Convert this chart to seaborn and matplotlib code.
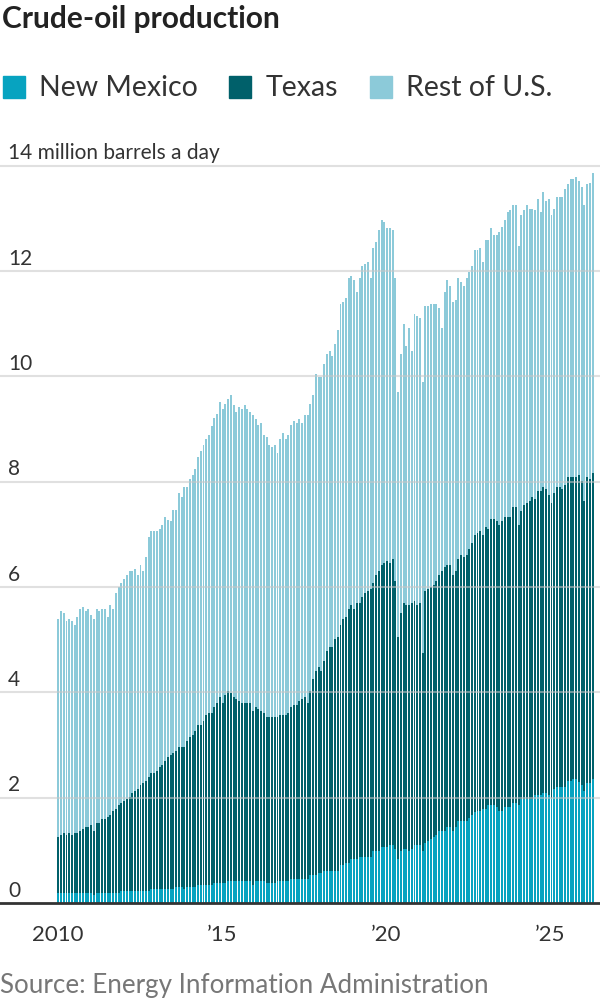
import numpy as np
import pandas as pd
import matplotlib
matplotlib.use("Agg")
import matplotlib.pyplot as plt
from matplotlib.patches import Rectangle
from matplotlib.transforms import blended_transform_factory
import seaborn as sns

# million barrels a day, monthly from Jan 2010 (one row per year)
new_mexico = [
    0.19, 0.19, 0.19, 0.19, 0.19, 0.19, 0.19, 0.19, 0.19, 0.19, 0.19, 0.19,
    0.19, 0.15, 0.19, 0.19, 0.19, 0.19, 0.19, 0.19, 0.19, 0.19, 0.19, 0.23,
    0.23, 0.23, 0.23, 0.23, 0.23, 0.23, 0.23, 0.23, 0.23, 0.23, 0.27, 0.27,
    0.27, 0.27, 0.27, 0.27, 0.27, 0.27, 0.27, 0.30, 0.30, 0.30, 0.27, 0.30,
    0.30, 0.30, 0.30, 0.34, 0.34, 0.34, 0.34, 0.34, 0.34, 0.38, 0.38, 0.38,
    0.38, 0.38, 0.42, 0.42, 0.42, 0.42, 0.42, 0.42, 0.42, 0.42, 0.42, 0.34,
    0.42, 0.42, 0.42, 0.42, 0.38, 0.38, 0.38, 0.38, 0.42, 0.42, 0.42, 0.42,
    0.42, 0.46, 0.46, 0.46, 0.46, 0.46, 0.46, 0.46, 0.53, 0.53, 0.53, 0.57,
    0.57, 0.61, 0.61, 0.61, 0.61, 0.61, 0.61, 0.72, 0.72, 0.76, 0.76, 0.84,
    0.84, 0.84, 0.87, 0.87, 0.87, 0.87, 0.87, 0.99, 0.99, 0.99, 1.06, 1.06,
    1.06, 1.10, 1.10, 1.03, 0.84, 0.99, 1.03, 1.03, 0.99, 1.03, 1.10, 1.10,
    1.10, 0.99, 1.14, 1.18, 1.22, 1.25, 1.30, 1.37, 1.37, 1.37, 1.44, 1.44,
    1.37, 1.44, 1.56, 1.56, 1.56, 1.56, 1.62, 1.67, 1.72, 1.75, 1.75, 1.78,
    1.78, 1.86, 1.86, 1.86, 1.82, 1.75, 1.75, 1.82, 1.82, 1.82, 1.90, 1.90,
    1.86, 1.97, 1.97, 1.97, 1.97, 1.97, 2.05, 2.05, 2.05, 2.09, 2.09, 2.05,
    2.00, 2.16, 2.20, 2.20, 2.20, 2.20, 2.32, 2.32, 2.35, 2.35, 2.30, 2.24,
    2.13, 2.28, 2.28, 2.35,
]
texas = [
    1.06, 1.10, 1.14, 1.10, 1.14, 1.10, 1.14, 1.14, 1.18, 1.21, 1.25, 1.25,
    1.29, 1.22, 1.33, 1.33, 1.40, 1.40, 1.44, 1.48, 1.56, 1.59, 1.67, 1.67,
    1.71, 1.74, 1.78, 1.86, 1.90, 1.93, 2.01, 2.05, 2.09, 2.16, 2.20, 2.20,
    2.24, 2.31, 2.35, 2.43, 2.50, 2.54, 2.58, 2.59, 2.66, 2.66, 2.69, 2.78,
    2.85, 2.89, 2.97, 3.04, 3.04, 3.12, 3.23, 3.27, 3.27, 3.34, 3.42, 3.53,
    3.42, 3.57, 3.60, 3.57, 3.49, 3.45, 3.42, 3.38, 3.38, 3.38, 3.38, 3.31,
    3.30, 3.26, 3.23, 3.19, 3.15, 3.15, 3.15, 3.15, 3.11, 3.15, 3.15, 3.15,
    3.19, 3.26, 3.30, 3.30, 3.38, 3.41, 3.45, 3.34, 3.50, 3.72, 3.87, 3.91,
    3.83, 3.98, 4.17, 4.25, 4.25, 4.40, 4.44, 4.56, 4.67, 4.67, 4.82, 4.82,
    4.74, 4.86, 4.83, 4.94, 5.02, 5.05, 5.09, 5.09, 5.24, 5.31, 5.36, 5.40,
    5.43, 5.36, 5.43, 5.08, 4.21, 4.52, 4.67, 4.63, 4.67, 4.67, 4.63, 4.56,
    4.60, 3.76, 4.78, 4.78, 4.78, 4.79, 4.81, 4.86, 4.93, 5.01, 4.98, 4.98,
    4.86, 4.86, 4.97, 5.05, 5.01, 5.05, 5.10, 5.17, 5.27, 5.27, 5.31, 5.21,
    5.36, 5.24, 5.43, 5.43, 5.43, 5.43, 5.50, 5.51, 5.51, 5.51, 5.62, 5.62,
    5.32, 5.47, 5.59, 5.62, 5.66, 5.74, 5.62, 5.77, 5.77, 5.81, 5.77, 5.70,
    5.59, 5.62, 5.70, 5.70, 5.66, 5.74, 5.77, 5.77, 5.74, 5.74, 5.83, 5.77,
    5.50, 5.81, 5.77, 5.81,
]
rest_of_us = [
    4.14, 4.25, 4.18, 4.06, 4.06, 4.06, 3.95, 4.10, 4.21, 4.22, 4.10, 4.14,
    3.99, 4.02, 4.06, 4.02, 3.99, 3.99, 3.80, 3.99, 3.83, 4.11, 4.14, 4.18,
    4.22, 4.26, 4.30, 4.22, 4.22, 4.07, 4.18, 4.03, 4.25, 4.56, 4.59, 4.59,
    4.55, 4.52, 4.55, 4.62, 4.51, 4.44, 4.62, 4.58, 4.82, 4.74, 4.93, 4.81,
    4.90, 4.93, 4.97, 5.09, 5.20, 5.24, 5.24, 5.28, 5.44, 5.48, 5.48, 5.60,
    5.57, 5.53, 5.54, 5.65, 5.54, 5.46, 5.57, 5.57, 5.65, 5.57, 5.53, 5.61,
    5.46, 5.39, 5.46, 5.27, 5.31, 5.16, 5.12, 5.16, 5.01, 5.23, 5.35, 5.23,
    5.27, 5.35, 5.39, 5.35, 5.34, 5.24, 5.35, 5.46, 5.45, 5.39, 5.65, 5.50,
    5.58, 5.65, 5.65, 5.61, 5.53, 5.61, 5.83, 6.09, 6.02, 6.05, 6.28, 6.24,
    6.24, 5.90, 6.16, 6.28, 6.24, 6.24, 5.90, 6.35, 6.31, 6.47, 6.54, 6.46,
    6.32, 6.35, 6.24, 5.75, 4.66, 4.92, 5.29, 4.92, 5.26, 4.77, 5.45, 5.49,
    5.41, 5.15, 5.41, 5.37, 5.37, 5.33, 5.26, 5.07, 4.62, 5.22, 5.40, 5.29,
    5.18, 5.15, 5.33, 5.18, 5.14, 5.25, 5.25, 5.25, 5.40, 5.37, 5.37, 5.17,
    5.44, 5.48, 5.52, 5.40, 5.44, 5.55, 5.59, 5.63, 5.78, 5.82, 5.74, 5.74,
    5.29, 5.63, 5.59, 5.67, 5.55, 5.47, 5.48, 5.55, 5.29, 5.59, 5.47, 5.62,
    5.48, 5.40, 5.51, 5.51, 5.55, 5.62, 5.55, 5.66, 5.66, 5.70, 5.58, 5.59,
    5.63, 5.55, 5.62, 5.70,
]

series_names = ["New Mexico", "Texas", "Rest of U.S."]
series_colors = ["#07a3c0", "#00606a", "#8ccad9"]
y_ticks = [0, 2, 4, 6, 8, 10, 12, 14]
years = list(range(2010, 2027))
year_labels = {2010: "2010", 2015: "\u201915", 2020: "\u201920", 2025: "\u201925"}

months = pd.date_range("2010-01-01", periods=len(texas), freq="MS")
df = pd.DataFrame({
    "month": months.strftime("%Y-%m"),
    "nm": new_mexico,
    "tx": texas,
    "rest": rest_of_us,
})
# stacked tops, drawn back to front
df["tx_top"] = df["nm"] + df["tx"]
df["total"] = df["tx_top"] + df["rest"]

sns.set_style("white")
plt.rcParams["font.family"] = ["Lato", "DejaVu Sans"]

fig = plt.figure(figsize=(6, 10), dpi=100)
ax = fig.add_axes([0, 0.097, 1, 0.748])

bar_w = 0.72
for col, color in [("total", series_colors[2]), ("tx_top", series_colors[1]), ("nm", series_colors[0])]:
    sns.barplot(data=df, x="month", y=col, color=color, width=bar_w,
                saturation=1, linewidth=0, errorbar=None, ax=ax)

px_month = 2.74
left = -bar_w / 2 - 57.3 / px_month
ax.set_xlim(left, left + 600 / px_month)
ax.set_ylim(0, 14.2)
ax.set_xlabel("")
ax.set_ylabel("")

# gridlines sit over the bars
for v in y_ticks[1:]:
    ax.axhline(v, color="#c8c8c8", lw=1.5, alpha=0.55, zorder=5)

trans = blended_transform_factory(ax.transAxes, ax.transData)
for v in y_ticks:
    lab = "14 million barrels a day" if v == 14 else str(v)
    ax.text(8 / 600, v + 0.12, lab, transform=trans, ha="left", va="baseline",
            fontsize=15, color="#333333")
ax.set_yticks([])

major = [12 * (y - 2010) - bar_w / 2 for y in year_labels]
minor = [12 * (y - 2010) - bar_w / 2 for y in years if y not in year_labels]
ax.set_xticks(major, list(year_labels.values()))
ax.set_xticks(minor, minor=True)
ax.tick_params(axis="x", which="major", length=8, width=2, color="#333333",
               pad=8, labelsize=16, labelcolor="#333333")
ax.tick_params(axis="x", which="minor", length=5, width=1.5, color="#333333")

sns.despine(ax=ax, left=True, top=True, right=True)
ax.spines["bottom"].set_color("#333333")
ax.spines["bottom"].set_linewidth(2)
ax.spines["bottom"].set_zorder(6)

fig.text(0.003, 0.995, "Crude-oil production", fontsize=21.5, fontweight="bold",
         va="top", ha="left", color="#222222")

sq_x = [3, 229, 370]
txt_x = [39, 266, 406]
for name, color, sx, tx in zip(series_names, series_colors, sq_x, txt_x):
    fig.patches.append(Rectangle((sx / 600, 1 - 98 / 1000), 22 / 600, 22 / 1000,
                                 transform=fig.transFigure, color=color))
    fig.text(tx / 600, 1 - 88 / 1000, name, fontsize=20.5,
             va="center", ha="left", color="#333333")

fig.text(0.0, 1 - 985 / 1000, "Source: Energy Information Administration",
         fontsize=18.7, va="center", ha="left", color="#777777")

fig.savefig("out.png", dpi=100)
